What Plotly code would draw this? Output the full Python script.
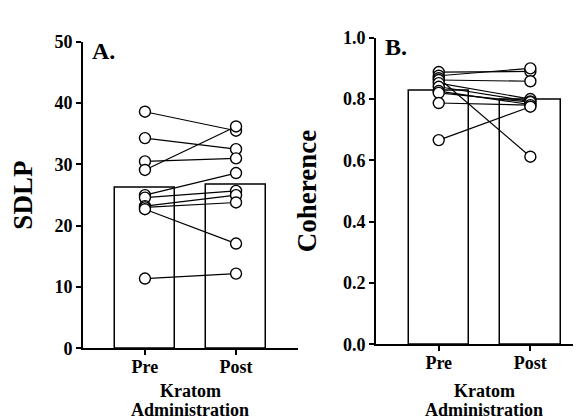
import plotly.graph_objects as go
import numpy as np

conditions = ["Pre", "Post"]

# Panel A: SDLP per participant
sdlp_pre = [38.6, 34.3, 30.5, 29.1, 25.0, 24.6, 23.2, 23.0, 22.7, 11.4]
sdlp_post = [35.5, 32.5, 31.0, 36.2, 28.6, 25.7, 25.0, 23.8, 17.1, 12.2]

# Panel B: Coherence per participant
coh_pre = [0.888, 0.876, 0.868, 0.862, 0.852, 0.840, 0.826, 0.820, 0.787, 0.666]
coh_post = [0.890, 0.900, 0.612, 0.858, 0.800, 0.792, 0.782, 0.790, 0.780, 0.775]

yticks_a = [0, 10, 20, 30, 40, 50]
yticks_b = [0.0, 0.2, 0.4, 0.6, 0.8, 1.0]
yticklabels_b = ["0.0", "0.2", "0.4", "0.6", "0.8", "1.0"]

x_title_lines = ["Kratom", "Administration"]

FONT = "Liberation Serif, Times New Roman, serif"
W, H = 581, 419

fig = go.Figure()

def add_panel(pre, post, xa, ya):
    xpos = [0, 1]
    means = [float(np.mean(pre)), float(np.mean(post))]
    fig.add_trace(go.Bar(
        x=xpos, y=means, width=0.66,
        marker=dict(color="white", line=dict(color="black", width=1.5)),
        xaxis=xa, yaxis=ya, showlegend=False, hoverinfo="skip"))
    lx, ly = [], []
    for a, b in zip(pre, post):
        lx += [0, 1, None]
        ly += [a, b, None]
    fig.add_trace(go.Scatter(
        x=lx, y=ly, mode="lines", line=dict(color="black", width=1.2),
        xaxis=xa, yaxis=ya, showlegend=False, hoverinfo="skip"))
    fig.add_trace(go.Scatter(
        x=[0] * len(pre) + [1] * len(post), y=list(pre) + list(post),
        mode="markers",
        marker=dict(size=11, color="white", line=dict(color="black", width=1.4)),
        xaxis=xa, yaxis=ya, showlegend=False))

add_panel(sdlp_pre, sdlp_post, "x", "y")
add_panel(coh_pre, coh_post, "x2", "y2")

tickfont = dict(family=FONT, size=18, color="black", weight="bold")
titlefont_y = dict(family=FONT, size=27, color="black", weight="bold")
titlefont_x = dict(family=FONT, size=18, color="black", weight="bold")

common_x = dict(
    tickmode="array", tickvals=[0, 1], ticktext=conditions,
    showline=True, linecolor="black", linewidth=2,
    ticks="outside", ticklen=5, tickwidth=2, tickcolor="black",
    ticklabelstandoff=-4,
    showgrid=False, zeroline=False, tickfont=tickfont,
)
common_y = dict(
    showline=True, linecolor="black", linewidth=2,
    ticks="outside", ticklen=5, tickwidth=2, tickcolor="black",
    showgrid=False, zeroline=False, tickfont=tickfont,
)

annotations = [
    dict(text="A.", x=82 / W, y=1 - 35 / H, xref="paper", yref="paper",
         xanchor="left", yanchor="middle", showarrow=False,
         font=dict(family=FONT, size=24, color="black", weight="bold")),
    dict(text="B.", x=375 / W, y=1 - 30 / H, xref="paper", yref="paper",
         xanchor="left", yanchor="middle", showarrow=False,
         font=dict(family=FONT, size=24, color="black", weight="bold")),
]
for cx in (182 / W, 476 / W):
    for line, cy in zip(x_title_lines, (392, 412)):
        annotations.append(dict(
            text=line, x=cx, y=1 - cy / H, xref="paper", yref="paper",
            xanchor="center", yanchor="middle", showarrow=False,
            font=titlefont_x))

fig.update_layout(
    width=W, height=H,
    margin=dict(l=0, r=0, t=0, b=0),
    paper_bgcolor="white", plot_bgcolor="white",
    bargap=0,
    xaxis=dict(domain=[75 / W, 290 / W], range=[-0.68, 1.68], anchor="y", **common_x),
    yaxis=dict(domain=[1 - 347 / H, 1 - 25 / H], range=[0, 50], anchor="x",
               tickmode="array", tickvals=yticks_a,
               title=dict(text="SDLP", font=titlefont_y, standoff=17), **common_y),
    xaxis2=dict(domain=[368 / W, 1.0], range=[-0.685, 1.64], anchor="y2", **common_x),
    yaxis2=dict(domain=[1 - 342.7 / H, 1 - 20.7 / H], range=[0, 1.0], anchor="x2",
                tickmode="array", tickvals=yticks_b, ticktext=yticklabels_b,
                title=dict(text="Coherence", font=titlefont_y, standoff=18), **common_y),
    annotations=annotations,
)

fig.write_html("out.html")
